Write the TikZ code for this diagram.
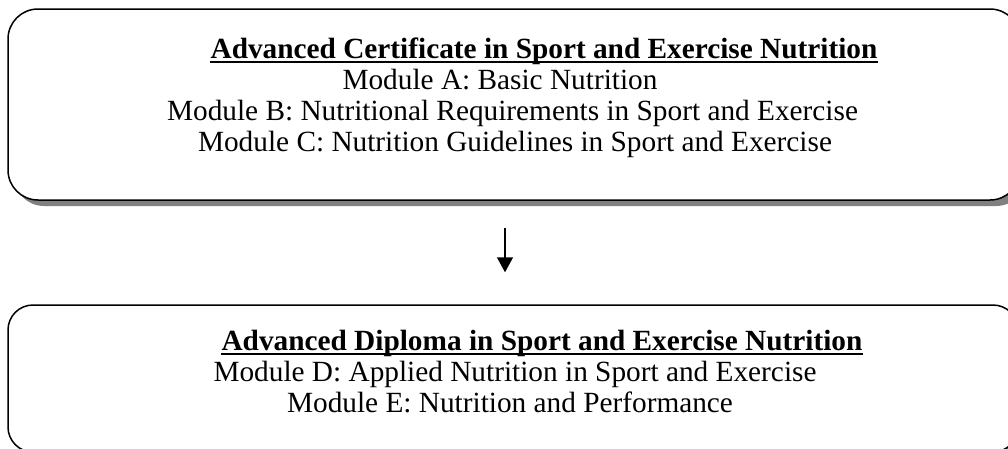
\documentclass[tikz,border=0pt]{standalone}
\usepackage{fontspec}
\setmainfont{Liberation Serif}
\usetikzlibrary{arrows.meta,shadows}
\begin{document}
\begin{tikzpicture}[x=1pt,y=-1pt,
  box/.style={draw=black, line width=1.5pt, rounded corners=30pt, inner sep=0pt, fill=white,
    drop shadow={shadow xshift=6pt, shadow yshift=-6pt, fill=black!50, opacity=1}},
  txt/.style={anchor=base, inner sep=0pt, font=\fontsize{29.3}{32}\selectfont},
  ttl/.style={anchor=base, inner sep=0pt, font=\fontsize{29.3}{32}\selectfont\bfseries},
  uline/.style={line width=2pt},
  arr/.style={line width=1.5pt, -{Triangle[length=15pt,width=16pt]}}]
\useasboundingbox (0,0) rectangle (1008,448);
\node[box, minimum width=1012pt, minimum height=191pt] (top) at (514,104.5) {};
\node[box, minimum width=1010pt, minimum height=147pt, rounded corners=25pt] (bot) at (513,378.5) {};
\node[ttl] (t1) at (544,58) {Advanced Certificate in Sport and Exercise Nutrition};
\draw[uline] ([yshift=-4pt]t1.base west) -- ([yshift=-4pt]t1.base east);
\node[txt] (ma) at (500,89) {Module A: Basic Nutrition};
\node[txt] (mb) at (512.5,120) {Module B: Nutritional Requirements in Sport and Exercise};
\node[txt] (mc) at (515,151) {Module C: Nutrition Guidelines in Sport and Exercise};
\node[ttl] (t2) at (542,350) {Advanced Diploma in Sport and Exercise Nutrition};
\draw[uline] ([yshift=-4pt]t2.base west) -- ([yshift=-4pt]t2.base east);
\node[txt] (md) at (515,381) {Module D: Applied Nutrition in Sport and Exercise};
\node[txt] (me) at (510,412) {Module E: Nutrition and Performance};
\coordinate (ax) at (505,0);
\draw[arr, shorten <=27pt, shorten >=32pt] (top.south -| ax) -- (bot.north -| ax);
\end{tikzpicture}
\end{document}
